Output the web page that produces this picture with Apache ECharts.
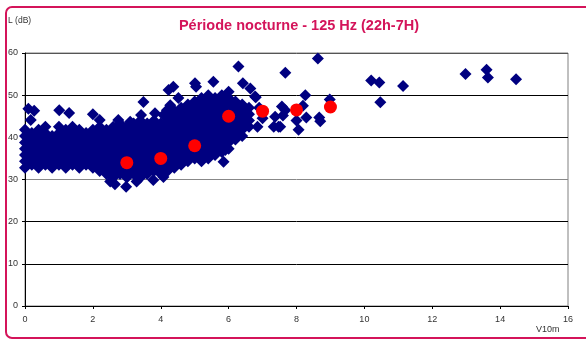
<!DOCTYPE html>
<html>
<head>
<meta charset="utf-8">
<script src="https://cdn.jsdelivr.net/npm/echarts@6/dist/echarts.min.js"></script>
<style>
  html, body { margin: 0; padding: 0; background: #fff; }
  #chart { width: 586px; height: 340px; }
</style>
</head>
<body>
<div id="chart"></div>
<script>
// axes
const xTicks = [0, 2, 4, 6, 8, 10, 12, 14, 16]
const yTicks = [0, 10, 20, 30, 40, 50, 60]

// mesures (V10m, L) - nuage principal, relevé colonne par colonne
const mesures = [
  [0.0,32.8],[0.0,34.3],[0.0,35.8],[0.0,37.3],[0.0,38.8],[0.0,40.3],[0.0,41.8],
  [0.2,33.5],[0.2,35],[0.2,36.5],[0.2,38],[0.2,39.5],[0.2,41],
  [0.4,32.8],[0.4,34.3],[0.4,35.8],[0.4,37.3],[0.4,38.8],[0.4,40.3],[0.4,41.8],
  [0.6,33.5],[0.6,35],[0.6,36.5],[0.6,38],[0.6,39.5],[0.6,41],[0.6,42.5],
  [0.8,32.8],[0.8,34.3],[0.8,35.8],[0.8,37.3],[0.8,38.8],[0.8,40.3],
  [1.0,33.5],[1.0,35],[1.0,36.5],[1.0,38],[1.0,39.5],[1.0,41],[1.0,42.5],
  [1.2,32.8],[1.2,34.3],[1.2,35.8],[1.2,37.3],[1.2,38.8],[1.2,40.3],[1.2,41.8],
  [1.4,33.5],[1.4,35],[1.4,36.5],[1.4,38],[1.4,39.5],[1.4,41],[1.4,42.5],
  [1.6,32.8],[1.6,34.3],[1.6,35.8],[1.6,37.3],[1.6,38.8],[1.6,40.3],[1.6,41.8],
  [1.8,33.5],[1.8,35],[1.8,36.5],[1.8,38],[1.8,39.5],[1.8,41],
  [2.0,32.8],[2.0,34.3],[2.0,35.8],[2.0,37.3],[2.0,38.8],[2.0,40.3],[2.0,41.8],
  [2.2,32],[2.2,33.5],[2.2,35],[2.2,36.5],[2.2,38],[2.2,39.5],[2.2,41],[2.2,42.5],
  [2.4,31.3],[2.4,32.8],[2.4,34.3],[2.4,35.8],[2.4,37.3],[2.4,38.8],[2.4,40.3],[2.4,41.8],
  [2.6,30.5],[2.6,32],[2.6,33.5],[2.6,35],[2.6,36.5],[2.6,38],[2.6,39.5],[2.6,41],[2.6,42.5],
  [2.8,31.3],[2.8,32.8],[2.8,34.3],[2.8,35.8],[2.8,37.3],[2.8,38.8],[2.8,40.3],[2.8,41.8],[2.8,43.3],
  [3.0,30.5],[3.0,32],[3.0,33.5],[3.0,35],[3.0,36.5],[3.0,38],[3.0,39.5],[3.0,41],[3.0,42.5],
  [3.2,31.3],[3.2,32.8],[3.2,34.3],[3.2,35.8],[3.2,37.3],[3.2,38.8],[3.2,40.3],[3.2,41.8],[3.2,43.3],
  [3.4,30.5],[3.4,32],[3.4,33.5],[3.4,35],[3.4,36.5],[3.4,38],[3.4,39.5],[3.4,41],[3.4,42.5],[3.4,44],
  [3.6,31.3],[3.6,32.8],[3.6,34.3],[3.6,35.8],[3.6,37.3],[3.6,38.8],[3.6,40.3],[3.6,41.8],[3.6,43.3],
  [3.8,32],[3.8,33.5],[3.8,35],[3.8,36.5],[3.8,38],[3.8,39.5],[3.8,41],[3.8,42.5],[3.8,44],
  [4.0,31.3],[4.0,32.8],[4.0,34.3],[4.0,35.8],[4.0,37.3],[4.0,38.8],[4.0,40.3],[4.0,41.8],[4.0,43.3],
  [4.2,32],[4.2,33.5],[4.2,35],[4.2,36.5],[4.2,38],[4.2,39.5],[4.2,41],[4.2,42.5],[4.2,44],[4.2,45.5],
  [4.4,32.8],[4.4,34.3],[4.4,35.8],[4.4,37.3],[4.4,38.8],[4.4,40.3],[4.4,41.8],[4.4,43.3],[4.4,44.8],[4.4,46.3],
  [4.6,33.5],[4.6,35],[4.6,36.5],[4.6,38],[4.6,39.5],[4.6,41],[4.6,42.5],[4.6,44],[4.6,45.5],[4.6,47],
  [4.8,34.3],[4.8,35.8],[4.8,37.3],[4.8,38.8],[4.8,40.3],[4.8,41.8],[4.8,43.3],[4.8,44.8],[4.8,46.3],[4.8,47.8],
  [5.0,35],[5.0,36.5],[5.0,38],[5.0,39.5],[5.0,41],[5.0,42.5],[5.0,44],[5.0,45.5],[5.0,47],[5.0,48.5],
  [5.2,34.3],[5.2,35.8],[5.2,37.3],[5.2,38.8],[5.2,40.3],[5.2,41.8],[5.2,43.3],[5.2,44.8],[5.2,46.3],[5.2,47.8],[5.2,49.3],
  [5.4,35],[5.4,36.5],[5.4,38],[5.4,39.5],[5.4,41],[5.4,42.5],[5.4,44],[5.4,45.5],[5.4,47],[5.4,48.5],[5.4,50],
  [5.6,35.8],[5.6,37.3],[5.6,38.8],[5.6,40.3],[5.6,41.8],[5.6,43.3],[5.6,44.8],[5.6,46.3],[5.6,47.8],[5.6,49.3],
  [5.8,36.5],[5.8,38],[5.8,39.5],[5.8,41],[5.8,42.5],[5.8,44],[5.8,45.5],[5.8,47],[5.8,48.5],[5.8,50],
  [6.0,37.3],[6.0,38.8],[6.0,40.3],[6.0,41.8],[6.0,43.3],[6.0,44.8],[6.0,46.3],[6.0,47.8],[6.0,49.3],[6.0,50.8],
  [6.2,39.5],[6.2,41],[6.2,42.5],[6.2,44],[6.2,45.5],[6.2,47],[6.2,48.5],
  [6.4,40.3],[6.4,41.8],[6.4,43.3],[6.4,44.8],[6.4,46.3],[6.4,47.8],
  [6.6,42.5],[6.6,44],[6.6,45.5],[6.6,47]
]

// points isolés
const isoles = [
  [0.1,46.8],[0.27,46.3],[0.17,44.1],[1.01,46.4],[1.3,45.8],[2.0,45.5],[2.2,44.1],[2.75,44.1],
  [3.1,43.7],[3.49,48.4],[3.42,45.3],[3.83,45.7],[4.08,45.3],
  [2.51,29.5],[2.65,28.9],[2.98,28.3],[3.29,29.5],[3.78,29.9],[4.08,30.6],[5.85,34.2],[5.9,37],
  [4.23,51.2],[4.37,52],[5.01,52.8],[5.04,52],[5.55,53.2],[6.29,56.8],[6.42,52.8],[6.64,51.6],
  [6.78,49.7],[4.52,49.3],[4.28,47.6],[4.18,46.4],
  [6.8,49.5],[6.9,47],[7.0,44.5],[6.85,42.5],[7.33,42.5],[7.47,42.5],[7.37,44.9],[7.57,47.3],
  [7.52,42.5],[7.6,45.2],[7.67,46.4],[7.67,55.3],[8.0,44],[8.06,41.8],[8.19,47.5],[8.26,50],
  [8.29,44.7],[8.67,44.7],[8.7,43.8],[8.63,58.7],[8.98,49],
  [10.2,53.5],[10.44,53],[10.47,48.3],[11.14,52.2],[12.98,55],[13.6,56],[13.64,54.2],[14.47,53.8]
]

// moyennes par classe de vent
const moyX = [3, 4, 5, 6, 7, 8, 9]
const moyY = [34, 35, 38, 45, 46.2, 46.5, 47.2]

const chart = echarts.init(document.getElementById('chart'))
const font = 'Liberation Sans, Arial, sans-serif'

chart.setOption({
  animation: false,
  title: {
    text: 'Période nocturne - 125 Hz (22h-7H)',
    left: 294, top: 13, textAlign: 'center',
    textStyle: { color: '#d4145a', fontSize: 14.5, fontWeight: 'bold', fontFamily: font }
  },
  graphic: [
    { type: 'rect', shape: { x: 6, y: 7, width: 600, height: 331, r: 6 },
      style: { fill: 'none', stroke: '#d4145a', lineWidth: 2 }, z: 100 },
    { type: 'text', left: 8, top: 16,
      style: { text: 'L (dB)', fill: '#333', font: '8.5px ' + font } },
    { type: 'text', left: 536, top: 325,
      style: { text: 'V10m', fill: '#333', font: '9px ' + font } }
  ],
  grid: {
    left: 25, right: 18, top: 53, bottom: 34,
    show: true, borderColor: '#808080', borderWidth: 1
  },
  xAxis: {
    type: 'value', min: xTicks[0], max: xTicks[xTicks.length - 1], interval: 2,
    axisLine: { show: true, lineStyle: { color: '#000', width: 1 } },
    axisTick: { show: true, length: 3, lineStyle: { color: '#000' } },
    axisLabel: { color: '#333', fontSize: 9, fontFamily: font, margin: 9 },
    splitLine: { show: false }
  },
  yAxis: {
    type: 'value', min: yTicks[0], max: yTicks[yTicks.length - 1], interval: 10,
    axisLine: { show: true, lineStyle: { color: '#000', width: 1 } },
    axisTick: { show: true, length: 3, lineStyle: { color: '#000' } },
    axisLabel: { color: '#333', fontSize: 9, fontFamily: font, margin: 7 },
    splitLine: { show: true, lineStyle: { color: ['#000', '#000', '#000', '#888', '#000', '#000', '#555'], width: 1 } }
  },
  series: [
    {
      type: 'scatter', symbol: 'diamond', symbolSize: 12,
      itemStyle: { color: '#000080', opacity: 1 },
      data: mesures.concat(isoles)
    },
    {
      type: 'scatter', symbol: 'circle', symbolSize: 13,
      itemStyle: { color: '#ff0000', opacity: 1 },
      data: moyX.map((x, i) => [x, moyY[i]]),
      z: 3
    }
  ]
})
</script>
</body>
</html>
